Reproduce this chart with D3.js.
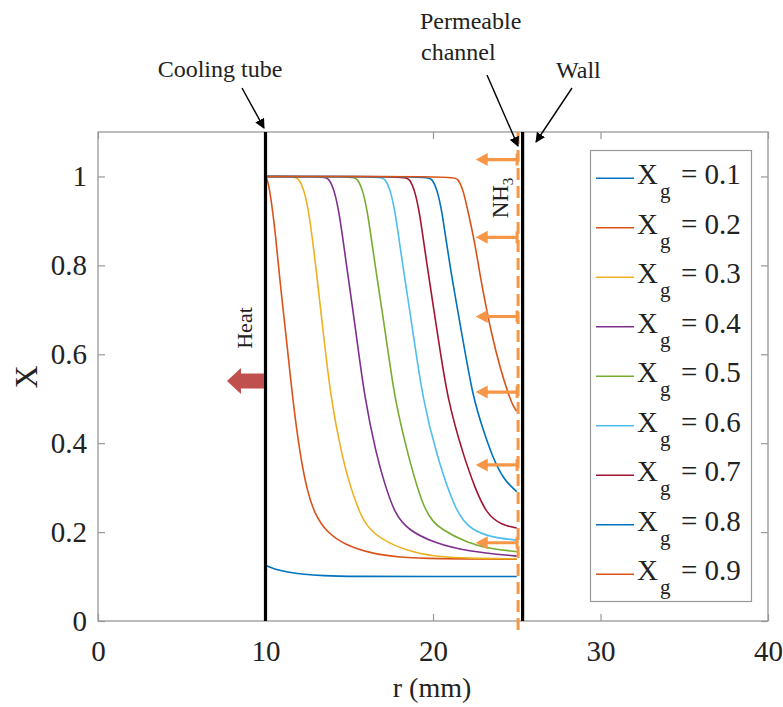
<!DOCTYPE html>
<html>
<head>
<meta charset="utf-8">
<script src="https://cdn.jsdelivr.net/npm/d3@7"></script>
<style>
  body { margin: 0; background: #fff; }
  svg text { font-family: "Liberation Serif", "Times New Roman", serif; fill: #222; }
</style>
</head>
<body>
<div id="chart"></div>
<script>
/* ---- data: r (mm) vs X ---- */
var xg01 = [[10,0.125],[10.5,0.117],[11.3,0.110],[12.3,0.105],[13.4,0.102],[15,0.1],[20,0.1],[25,0.1]];
var xg02 = [[10,1],[10.1,0.995],[10.3,0.96],[10.6,0.87],[10.9,0.75],[11.25,0.635],[11.62,0.5],[12.06,0.374],[12.5,0.29],[12.96,0.239],[13.65,0.2],[14.7,0.172],[16.3,0.152],[18,0.143],[20,0.14],[25,0.139]];
var xg03 = [[10,1],[11.7,1],[12.0,0.995],[12.3,0.97],[12.6,0.92],[13.0,0.8],[13.46,0.645],[13.9,0.5],[14.55,0.374],[15.0,0.31],[15.64,0.24],[16.2,0.205],[17.3,0.175],[18.9,0.153],[20.5,0.144],[22,0.141],[25,0.14]];
var xg04 = [[10,1],[13.5,1],[13.8,0.995],[14.1,0.97],[14.4,0.92],[14.8,0.81],[15.44,0.64],[15.92,0.5],[16.62,0.374],[17.1,0.31],[17.73,0.24],[18.5,0.205],[20.1,0.175],[22,0.157],[25,0.146]];
var xg05 = [[10,1],[15.2,1],[15.5,0.995],[15.8,0.97],[16.1,0.92],[16.5,0.81],[17.2,0.64],[17.7,0.5],[18.5,0.374],[19.5,0.24],[20.5,0.205],[22.1,0.175],[23.5,0.162],[25,0.156]];
var xg06 = [[10,1],[16.85,1],[17.15,0.995],[17.45,0.97],[17.75,0.92],[18.15,0.81],[18.85,0.64],[19.38,0.5],[20.2,0.374],[21.4,0.24],[22.3,0.205],[23.5,0.188],[25,0.182]];
var xg07 = [[10,1],[18.3,1],[18.6,0.995],[18.9,0.97],[19.2,0.92],[19.6,0.81],[20.3,0.64],[20.85,0.5],[21.8,0.374],[22.5,0.3],[23.2,0.24],[24.1,0.216],[25,0.209]];
var xg08 = [[10,1],[19.65,1],[19.95,0.995],[20.25,0.97],[20.55,0.92],[20.95,0.81],[21.75,0.64],[22.4,0.5],[23.0,0.43],[23.5,0.374],[24.2,0.318],[25,0.291]];
var xg09 = [[10,1],[21.2,1],[21.5,0.995],[21.8,0.97],[22.1,0.92],[22.5,0.85],[22.8,0.78],[23.1,0.72],[23.5,0.645],[24.0,0.57],[24.5,0.51],[24.8,0.482],[25,0.472]];

var seriesData = [xg01, xg02, xg03, xg04, xg05, xg06, xg07, xg08, xg09];
var seriesLabels = ["0.1", "0.2", "0.3", "0.4", "0.5", "0.6", "0.7", "0.8", "0.9"];
var seriesColors = ["#0072BD", "#D95319", "#EDB120", "#7E2F8E", "#77AC30", "#4DBEEE", "#A2142F", "#0072BD", "#D95319"];

var xTicks = [0, 10, 20, 30, 40];
var yTicks = [0, 0.2, 0.4, 0.6, 0.8, 1];

// geometry markers (r in mm, X levels)
var coolingTubeR = 10;
var channelR = 25.08;
var wallR = 25.35;
var nh3ArrowLevels = [1.038, 0.863, 0.685, 0.515, 0.351, 0.176];
var nh3ArrowTipR = 22.55;
var heatLevel = 0.54;
var heatTipR = 7.7;

/* ---- layout ---- */
var width = 783, height = 707;
var plotLeft = 98, plotRight = 768, plotTop = 132, plotBottom = 621;

var x = d3.scaleLinear().domain([0, 40]).range([plotLeft, plotRight]);
var y = d3.scaleLinear().domain([0, 1.1]).range([plotBottom, plotTop]);

var svg = d3.select("#chart").append("svg")
	.attr("width", width)
	.attr("height", height);

var boxColor = "#999";

// axes (MATLAB style, ticks inward)
var gx = svg.append("g")
	.attr("transform", "translate(0," + plotBottom + ")")
	.call(d3.axisBottom(x).tickValues(xTicks).tickSizeInner(-7).tickSizeOuter(0).tickPadding(19));
var gy = svg.append("g")
	.attr("transform", "translate(" + plotLeft + ",0)")
	.call(d3.axisLeft(y).tickValues(yTicks).tickSizeInner(-7).tickSizeOuter(0).tickPadding(11).tickFormat(d3.format("~g")));
var gt = svg.append("g")
	.attr("transform", "translate(0," + plotTop + ")")
	.call(d3.axisTop(x).tickValues(xTicks).tickSizeInner(-7).tickSizeOuter(0).tickFormat(""));
var gr = svg.append("g")
	.attr("transform", "translate(" + plotRight + ",0)")
	.call(d3.axisRight(y).tickValues(yTicks).tickSizeInner(-7).tickSizeOuter(0).tickFormat(""));

[gx, gy, gt, gr].forEach(function(g) {
	g.attr("font-family", null);
	g.select(".domain").remove();
	g.selectAll(".tick line").attr("stroke", boxColor).attr("stroke-width", 1.2);
	g.selectAll(".tick text")
		.attr("font-size", 29)
		.attr("fill", "#222");
});

svg.append("rect")
	.attr("x", plotLeft).attr("y", plotTop)
	.attr("width", plotRight - plotLeft).attr("height", plotBottom - plotTop)
	.attr("fill", "none").attr("stroke", boxColor).attr("stroke-width", 1.3);

// axis labels
svg.append("text")
	.attr("x", (plotLeft + plotRight) / 2 - 1)
	.attr("y", 697)
	.attr("text-anchor", "middle")
	.attr("font-size", 28)
	.text("r (mm)");
svg.append("text")
	.attr("transform", "translate(37,377) rotate(-90)")
	.attr("text-anchor", "middle")
	.attr("font-size", 32)
	.text("X");

// curves
var line = d3.line()
	.x(function(d) { return x(d[0]); })
	.y(function(d) { return y(d[1]); })
	.curve(d3.curveBasis);

svg.append("g").selectAll("path")
	.data(seriesData)
	.enter().append("path")
		.attr("d", line)
		.attr("fill", "none")
		.attr("stroke", function(d, i) { return seriesColors[i]; })
		.attr("stroke-width", 1.6);

// cooling tube and wall
svg.append("line")
	.attr("x1", x(coolingTubeR)).attr("x2", x(coolingTubeR))
	.attr("y1", y(1.1)).attr("y2", y(0))
	.attr("stroke", "#000").attr("stroke-width", 3.2);
svg.append("line")
	.attr("x1", x(wallR)).attr("x2", x(wallR))
	.attr("y1", y(1.1)).attr("y2", y(0))
	.attr("stroke", "#000").attr("stroke-width", 3.2);

// permeable channel (dashed) and NH3 arrows
var nh3Color = "#F79646";
svg.append("line")
	.attr("x1", x(channelR)).attr("x2", x(channelR))
	.attr("y1", y(1.1)).attr("y2", y(-0.02))
	.attr("stroke", nh3Color).attr("stroke-width", 3)
	.attr("stroke-dasharray", "12,6");

var nh3 = svg.append("g").selectAll("g")
	.data(nh3ArrowLevels)
	.enter().append("g");
nh3.append("line")
	.attr("x1", x(channelR)).attr("x2", x(nh3ArrowTipR) + 9)
	.attr("y1", function(d) { return y(d); }).attr("y2", function(d) { return y(d); })
	.attr("stroke", nh3Color).attr("stroke-width", 3.2);
nh3.append("line")
	.attr("x1", x(channelR) - 1).attr("x2", x(channelR) - 1)
	.attr("y1", function(d) { return y(d) - 6; }).attr("y2", function(d) { return y(d) + 6; })
	.attr("stroke", nh3Color).attr("stroke-width", 3);
nh3.append("path")
	.attr("d", function(d) {
		var tx = x(nh3ArrowTipR), ty = y(d);
		return "M" + tx + "," + ty + "L" + (tx + 12) + "," + (ty - 6.5) + "L" + (tx + 12) + "," + (ty + 6.5) + "Z";
	})
	.attr("fill", nh3Color);

svg.append("text")
	.attr("transform", "translate(508,198) rotate(-90)")
	.attr("text-anchor", "middle")
	.attr("font-size", 23)
	.html('NH<tspan font-size="15" dy="5">3</tspan>');

// heat arrow
var heatColor = "#C0504D";
svg.append("path")
	.attr("d", function() {
		var x0 = x(coolingTubeR) - 1.5, tx = x(heatTipR), cy = y(heatLevel);
		var hx = tx + 14;
		return "M" + x0 + "," + (cy - 7.5) + "L" + hx + "," + (cy - 7.5) + "L" + hx + "," + (cy - 13) +
			"L" + tx + "," + cy + "L" + hx + "," + (cy + 13) + "L" + hx + "," + (cy + 7.5) +
			"L" + x0 + "," + (cy + 7.5) + "Z";
	})
	.attr("fill", heatColor);
svg.append("text")
	.attr("transform", "translate(252,328) rotate(-90)")
	.attr("text-anchor", "middle")
	.attr("font-size", 22)
	.text("Heat");

// legend
var legendTop = 178.3, legendStep = 49.5;
svg.append("rect")
	.attr("x", 590.5).attr("y", 150.5)
	.attr("width", 161).attr("height", 451)
	.attr("fill", "#fff").attr("stroke", boxColor).attr("stroke-width", 1.2);
var leg = svg.append("g").selectAll("g")
	.data(seriesLabels)
	.enter().append("g")
		.attr("transform", function(d, i) { return "translate(0," + (legendTop + i * legendStep) + ")"; });
leg.append("line")
	.attr("x1", 596).attr("x2", 634)
	.attr("stroke", function(d, i) { return seriesColors[i]; })
	.attr("stroke-width", 1.6);
var lt = leg.append("text").attr("font-size", 29);
lt.append("tspan").attr("x", 637).attr("y", 6).text("X");
lt.append("tspan").attr("x", 660).attr("y", 20).attr("font-size", 21).text("g");
lt.append("tspan").attr("x", 681).attr("y", 6).text(function(d) { return "= " + d; });

// annotations
var marker = svg.append("defs").append("marker")
	.attr("id", "head")
	.attr("viewBox", "0 0 10 10")
	.attr("refX", 9).attr("refY", 5)
	.attr("markerWidth", 10).attr("markerHeight", 10)
	.attr("markerUnits", "userSpaceOnUse")
	.attr("orient", "auto");
marker.append("path").attr("d", "M0,0L10,5L0,10Z").attr("fill", "#000");

svg.append("text").attr("x", 220).attr("y", 77).attr("text-anchor", "middle").attr("font-size", 24).text("Cooling tube");
svg.append("text").attr("x", 420).attr("y", 29).attr("font-size", 24).text("Permeable");
svg.append("text").attr("x", 421).attr("y", 60).attr("font-size", 24).text("channel");
svg.append("text").attr("x", 556).attr("y", 78).attr("font-size", 24).text("Wall");

var annoArrows = [
	[242, 88, 264, 128],
	[487, 75, 518, 146],
	[572, 88, 536, 142]
];
svg.append("g").selectAll("line")
	.data(annoArrows)
	.enter().append("line")
		.attr("x1", function(d) { return d[0]; }).attr("y1", function(d) { return d[1]; })
		.attr("x2", function(d) { return d[2]; }).attr("y2", function(d) { return d[3]; })
		.attr("stroke", "#000").attr("stroke-width", 1.4)
		.attr("marker-end", "url(#head)");
</script>
</body>
</html>
